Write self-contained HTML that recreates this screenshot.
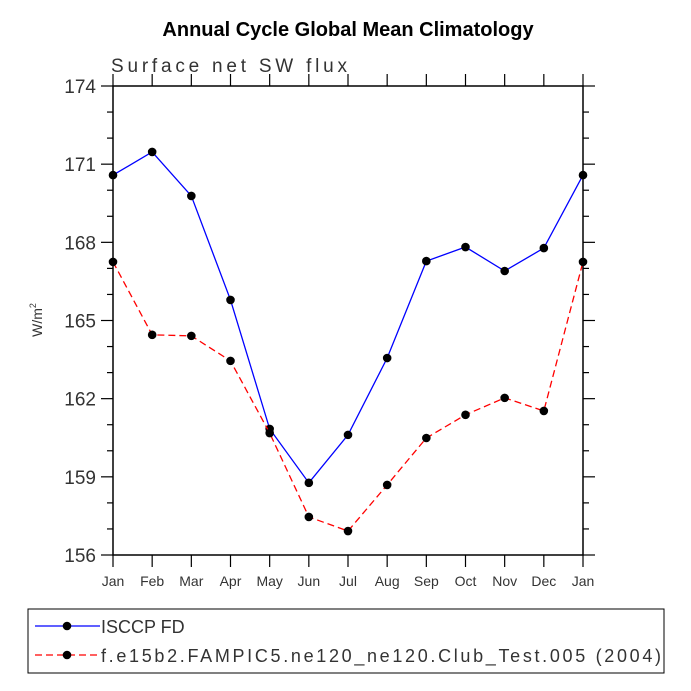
<!DOCTYPE html>
<html><head><meta charset="utf-8"><style>
body{margin:0;background:#fff}
svg{display:block;font-family:"Liberation Sans",sans-serif}
</style></head><body>
<svg id="chart" width="691" height="691">
<text x="348" y="36" text-anchor="middle" font-size="20" font-weight="bold">Annual Cycle Global Mean Climatology</text>
<text x="111" y="72" font-size="19" fill="#333" textLength="236">Surface net SW flux</text>
<text transform="translate(42,320) rotate(-90)" text-anchor="middle" font-size="14" fill="#333">W/m<tspan font-size="9" dy="-6">2</tspan></text>
<g id="axes"></g>
<g id="series"></g>
<rect x="28" y="609" width="636" height="64" fill="none" stroke="#000" stroke-width="1"/>
<g>
<line x1="35" y1="626" x2="100" y2="626" stroke="#00f" stroke-width="1.3"/><circle cx="67" cy="626" r="4.3"/>
<text x="101" y="633" font-size="18" fill="#333">ISCCP FD</text></g>
<g>
<line x1="35" y1="655" x2="100" y2="655" stroke="#f00" stroke-width="1.3" stroke-dasharray="7,4"/><circle cx="67" cy="655" r="4.3"/>
<text x="101" y="662" font-size="18" fill="#333" textLength="560">f.e15b2.FAMPIC5.ne120_ne120.Club_Test.005 (2004)</text></g>
</svg>
<script>
const months=["Jan","Feb","Mar","Apr","May","Jun","Jul","Aug","Sep","Oct","Nov","Dec","Jan"];
const yTicks=[156,159,162,165,168,171,174];
const obs=[170.58,171.47,169.78,165.79,160.84,158.77,160.61,163.56,167.28,167.82,166.9,167.78,170.58];
const model=[167.25,164.45,164.41,163.45,160.68,157.46,156.92,158.69,160.49,161.38,162.03,161.53,167.25];
const L=113,R=583,T=86,B=555,ymin=156,ymax=174;
const xs=i=>L+(R-L)*i/(months.length-1);
const ys=v=>B-(B-T)*(v-ymin)/(ymax-ymin);
const NS="http://www.w3.org/2000/svg";
function mk(tag,attrs,parent){const e=document.createElementNS(NS,tag);for(const k in attrs)e.setAttribute(k,attrs[k]);parent.appendChild(e);return e;}
const ax=document.getElementById('axes');
const frame=mk('rect',{x:L,y:T,width:R-L,height:B-T,fill:'none',stroke:'#000','stroke-width':1.5},ax);


months.forEach((m,i)=>{const x=xs(i);
mk('line',{x1:x,y1:B,x2:x,y2:B+12,stroke:'#000','stroke-width':1.2},ax);
mk('line',{x1:x,y1:T,x2:x,y2:T-12,stroke:'#000','stroke-width':1.2},ax);
const t=mk('text',{x:x,y:B+31,'text-anchor':'middle','font-size':14,fill:'#333'},ax);t.textContent=m;

});
yTicks.forEach((v,i)=>{const y=ys(v);
mk('line',{x1:L,y1:y,x2:L-12,y2:y,stroke:'#000','stroke-width':1.2},ax);
mk('line',{x1:R,y1:y,x2:R+12,y2:y,stroke:'#000','stroke-width':1.2},ax);
const t=mk('text',{x:L-17,y:y+7,'text-anchor':'end','font-size':19,fill:'#333'},ax);t.textContent=v;


if(i<yTicks.length-1){for(let k=1;k<3;k++){const yy=ys(v+k);
mk('line',{x1:L,y1:yy,x2:L-6,y2:yy,stroke:'#000','stroke-width':1.2},ax);
mk('line',{x1:R,y1:yy,x2:R+6,y2:yy,stroke:'#000','stroke-width':1.2},ax);}}});
const sg=document.getElementById('series');
function draw(vals,color,dash,name){
const p=mk('polyline',{points:vals.map((v,i)=>xs(i)+','+ys(v)).join(' '),fill:'none',stroke:color,'stroke-width':1.3,'stroke-dasharray':dash},sg);


vals.forEach((v,i)=>{const c=mk('circle',{cx:xs(i),cy:ys(v),r:4.3,fill:'#000'},sg);

});}
draw(obs,'#00f','none','isccp');
draw(model,'#f00','7,4','model');
</script>
</body></html>
